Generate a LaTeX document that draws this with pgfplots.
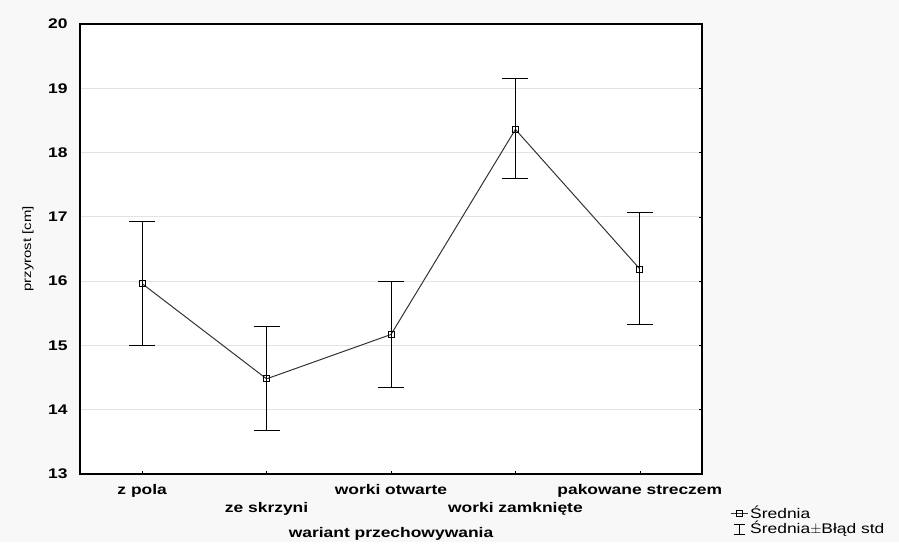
\documentclass[border=0pt]{standalone}
\usepackage{pgfplots}
\pgfplotsset{compat=1.18}
\usepackage{fontspec}
\setmainfont{Liberation Sans}[FakeStretch=1.25]
\usetikzlibrary{backgrounds}
\definecolor{bgc}{HTML}{F8F8F8}
\definecolor{gridc}{HTML}{E2E2E2}
\definecolor{linec}{HTML}{333333}
\begin{document}
\begin{tikzpicture}
\begin{axis}[
  scale only axis,
  width=622bp, height=450bp,
  xmin=-0.5, xmax=4.5,
  ymin=13, ymax=20,
  ytick={13,14,15,16,17,18,19,20},
  xtick={0,2,4},
  xticklabels={z pola, worki otwarte, pakowane streczem},
  extra x ticks={1,3},
  extra x tick labels={ze skrzyni, worki zamknięte},
  extra x tick style={xticklabel style={yshift=-18bp}},
  ymajorgrids,
  grid style={gridc, line width=0.8pt},
  axis line style={black, line width=1.1pt},
  tick align=inside,
  major tick length=3bp,
  tick style={black, line width=0.6pt},
  ytick pos=right,
  yticklabel pos=left,
  xtick pos=bottom,
  /pgf/number format/assume math mode=true,
  ticklabel style={font=\fontsize{14}{16}\selectfont\bfseries},
  yticklabel style={xshift=-9bp},
  xticklabel style={anchor=base, yshift=-21bp},
  xlabel={wariant przechowywania},
  xlabel style={font=\fontsize{14}{16}\selectfont\bfseries, at={(axis description cs:0.5,0)}, anchor=base, yshift=-64bp},
  ylabel={przyrost [cm]},
  ylabel style={font=\fontsize{12}{14}\selectfont, at={(axis description cs:-0.0836,0.5)}, anchor=center},
  axis background/.style={fill=white},
  legend style={at={(axis description cs:1.045,-0.067)}, anchor=north west, draw=none, fill=none,
    font=\fontsize{14}{15}\selectfont, row sep=-3bp, inner sep=0pt},
  legend cell align=left,
]
\addplot[linec, line width=1pt, mark=square, mark size=3bp,
  mark options={black, fill=white, line width=0.8pt},
  error bars/.cd, y dir=both, y explicit,
  error bar style={black, line width=1pt},
  error mark options={rotate=90, black, mark size=13bp, line width=1pt}]
  coordinates {
  (0,15.96) += (0,0.97) -= (0,0.96)
  (1,14.48) += (0,0.81) -= (0,0.81)
  (2,15.17) += (0,0.82) -= (0,0.82)
  (3,18.36) += (0,0.79) -= (0,0.77)
  (4,16.19) += (0,0.87) -= (0,0.87)
};
\addlegendentry{Średnia}
\addlegendimage{legend image code/.code={
  \draw[black, line width=0.8pt] (0.1cm,-0.2cm) -- (0.5cm,-0.2cm);
  \draw[black, line width=0.8pt] (0.1cm,0.15cm) -- (0.5cm,0.15cm);
  \draw[black, line width=0.8pt] (0.3cm,-0.2cm) -- (0.3cm,0.15cm);
}}
\addlegendentry{Średnia$\pm$Błąd std}
\end{axis}
\begin{scope}[on background layer]
\fill[bgc] (current axis.south west) ++(-80bp,-68bp) rectangle ++(899bp,542bp);
\end{scope}
\path[use as bounding box] (current axis.south west) ++(-80bp,-68bp) rectangle ++(899bp,542bp);
\end{tikzpicture}
\end{document}
